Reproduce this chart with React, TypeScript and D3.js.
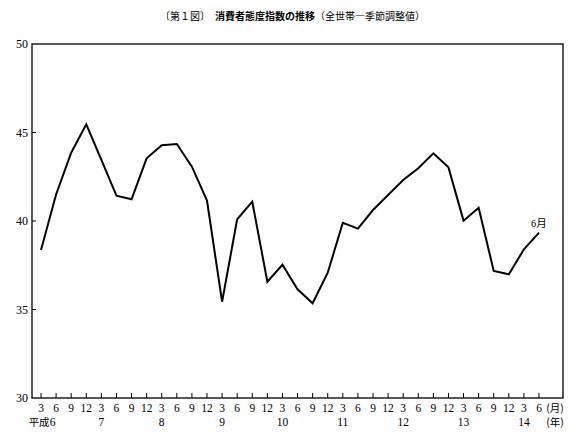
import React from "react";
import * as d3 from "d3";

const months = ["3","6","9","12","3","6","9","12","3","6","9","12","3","6","9","12","3","6","9","12","3","6","9","12","3","6","9","12","3","6","9","12","3","6"];
const yearLabels = ["平成6","7","8","9","10","11","12","13","14"];
const values = [38.36,41.5,43.86,45.46,43.45,41.43,41.23,43.54,44.28,44.35,43.07,41.15,35.44,40.1,41.09,36.57,37.53,36.14,35.35,37.08,39.9,39.57,40.62,41.47,42.32,42.98,43.82,43.03,40.02,40.75,37.18,36.99,38.4,39.34];
const yTicks = [30,35,40,45,50];

export default function App() {
  const W = 582, H = 438;
  const left = 32, right = 563, top = 44, bottom = 398;
  const x = d3.scaleLinear().domain([0, 33]).range([41, 539]);
  const y = d3.scaleLinear().domain([30, 50]).range([bottom, top]);
  const line = d3.line<number>().x((_, i) => x(i)).y(d => y(d));
  const serif = "Times New Roman, Liberation Serif, DejaVu Serif, serif";
  const cjk = "Noto Sans CJK JP, sans-serif";
  return (
    <svg width={W} height={H} style={{ position: "absolute", left: 0, top: 0, background: "#fff" }}>
      <text x={160} y={20} fontSize={10} fill="#000" fontFamily={cjk}>
        <tspan>〔第１図〕　</tspan>
        <tspan fontWeight="bold">消費者態度指数の推移</tspan>
        <tspan>（全世帯―季節調整値）</tspan>
      </text>
      <rect x={left} y={top} width={right - left} height={bottom - top} fill="none" stroke="#000" strokeWidth={1.3} />
      {yTicks.map(t => (
        <g key={t}>
          {t !== 30 && t !== 50 && <line x1={left} x2={left + 4} y1={y(t)} y2={y(t)} stroke="#000" strokeWidth={1} />}
          <text x={28} y={y(t) + 4} fontSize={12} textAnchor="end" fontFamily={serif}>{t}</text>
        </g>
      ))}
      {months.map((m, i) => (
        <g key={i}>
          <line x1={x(i)} x2={x(i)} y1={bottom} y2={bottom - 5} stroke="#000" strokeWidth={1} />
          <text x={x(i)} y={412} fontSize={11.5} textAnchor="middle" fontFamily={serif}>{m}</text>
        </g>
      ))}
      {yearLabels.map((yl, k) => (
        k === 0 ? (
          <text key={k} x={x(0) + 1} y={426} fontSize={11.5} textAnchor="middle">
            <tspan fontFamily={cjk} fontSize={10.5}>平成</tspan>
            <tspan fontFamily={serif}>6</tspan>
          </text>
        ) : (
          <text key={k} x={x(k * 4)} y={426} fontSize={11.5} textAnchor="middle" fontFamily={serif}>{yl}</text>
        )
      ))}
      <text x={555} y={412} fontSize={10.5} textAnchor="middle" fontFamily={cjk}>(月)</text>
      <text x={555} y={426} fontSize={10.5} textAnchor="middle" fontFamily={cjk}>(年)</text>
      <path d={line(values) || ""} fill="none" stroke="#000" strokeWidth={2} strokeLinejoin="miter" />
      <text x={x(33) - 8} y={y(values[33]) - 6} fontSize={10.5}>
        <tspan fontFamily={serif}>6</tspan>
        <tspan fontFamily={cjk}>月</tspan>
      </text>
    </svg>
  );
}
